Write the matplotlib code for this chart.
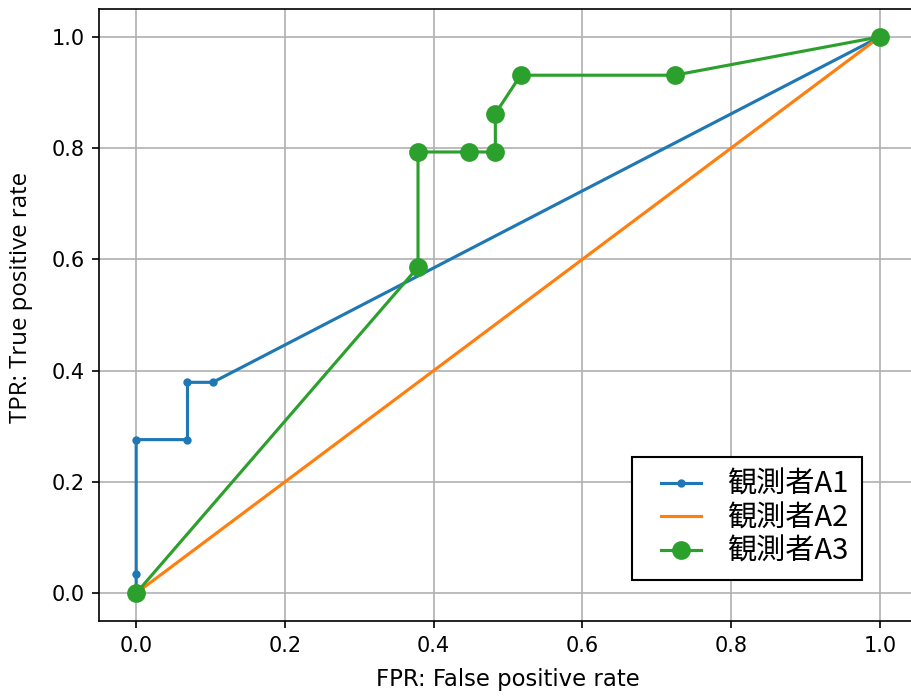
import matplotlib
matplotlib.use("Agg")
import matplotlib.pyplot as plt
from matplotlib.lines import Line2D
from matplotlib.legend_handler import HandlerLine2D

plt.rcParams['font.family'] = ['DejaVu Sans', 'Noto Sans CJK JP']

# ROC curve points per observer (FPR, TPR)
labels = ["観測者A1", "観測者A2", "観測者A3"]

fpr_a1 = [0.0, 0.0, 0.0, 0.069, 0.069, 0.103, 1.0]
tpr_a1 = [0.0, 0.034, 0.276, 0.276, 0.379, 0.379, 1.0]

fpr_a2 = [0.0, 1.0]
tpr_a2 = [0.0, 1.0]

fpr_a3 = [0.0, 0.379, 0.379, 0.448, 0.483, 0.483, 0.517, 0.724, 1.0]
tpr_a3 = [0.0, 0.586, 0.793, 0.793, 0.793, 0.862, 0.931, 0.931, 1.0]

xticks = [0.0, 0.2, 0.4, 0.6, 0.8, 1.0]
yticks = [0.0, 0.2, 0.4, 0.6, 0.8, 1.0]


class ShortLine(HandlerLine2D):
    """Legend line handler whose stroke is shorter than its handle box."""

    def __init__(self, length=1.35, **kw):
        super().__init__(**kw)
        self.length = length

    def get_xdata(self, legend, xdescent, ydescent, width, height, fontsize):
        xdata, xmark = super().get_xdata(legend, xdescent, ydescent,
                                         width, height, fontsize)
        c = -xdescent + width / 2
        half = self.length * fontsize / 2
        return [c - half, c + half], xmark


fig = plt.figure(figsize=(911 / 150, 696 / 150), dpi=150)
ax = fig.add_axes([99 / 911, 75 / 696, 818 / 911, 612 / 696])

ax.plot(fpr_a1, tpr_a1, marker='.', color='#1f77b4', lw=1.5, label=labels[0])
ax.plot(fpr_a2, tpr_a2, color='#ff7f0e', lw=1.5, label=labels[1])
ax.plot(fpr_a3, tpr_a3, marker='o', markersize=8, color='#2ca02c', lw=1.5,
        label=labels[2])

ax.set_xlim(-0.05, 1.05)
ax.set_ylim(-0.05, 1.05)
ax.set_xticks(xticks)
ax.set_yticks(yticks)
ax.grid(True)
for s in ax.spines.values():
    s.set_color('black')

ax.set_xlabel("FPR: False positive rate", fontsize=10.9, labelpad=6)
ax.set_ylabel("TPR: True positive rate", fontsize=11.5, family=['Open Sans'])
ax.yaxis.set_label_coords(-0.0807, 0.528)

leg = ax.legend(loc='lower right', bbox_to_anchor=(0.9328, 0.067),
                borderaxespad=0, fancybox=False, framealpha=1,
                edgecolor='black', handlelength=2.44, handletextpad=0.38,
                borderpad=0.45, labelspacing=0.12,
                handler_map={Line2D: ShortLine(1.35)},
                prop={'family': ['Noto Sans CJK JP'], 'size': 14})
leg.get_frame().set_linewidth(1.0)

fig.savefig("out.png", dpi=150)
